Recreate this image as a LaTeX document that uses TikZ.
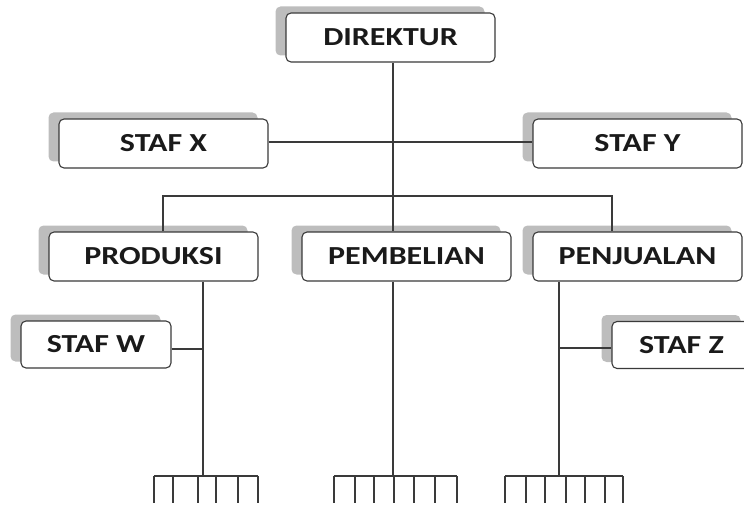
\documentclass[tikz,border=0pt]{standalone}
\usepackage{fontspec}
\newfontfamily\lbl{Carlito}[FakeStretch=1.23]
\usetikzlibrary{shadows}
\definecolor{edge}{HTML}{3A3A3A}
\definecolor{shade}{HTML}{BDBDBD}
\definecolor{ink}{HTML}{1A1A1A}
\tikzset{
  unit/.style={draw=edge, line width=1.1pt, fill=white, rounded corners=5pt,
    minimum width=209pt, minimum height=49pt, inner sep=0pt,
    text=ink, font=\lbl\bfseries\fontsize{26}{30}\selectfont,
    general shadow={shadow xshift=-10.5pt, shadow yshift=6.5pt, fill=shade, draw=none, opacity=1}},
  small/.style={unit, minimum width=150pt, minimum height=47pt},
  link/.style={draw=edge, line width=1.3pt}
}
\begin{document}
\begin{tikzpicture}[x=1pt,y=-1pt]
\useasboundingbox (0,0) rectangle (744,505);
\clip (0,0) rectangle (744,505);
% nodes
\node[unit] (dir)  at (390.5,37.5) {DIREKTUR};
\node[unit] (sx)   at (163.5,143.5) {STAF X};
\node[unit] (sy)   at (637.5,143.5) {STAF Y};
\node[unit] (prod) at (153.5,256.5) {PRODUKSI};
\node[unit] (pemb) at (406.5,256.5) {PEMBELIAN};
\node[unit] (penj) at (637.5,256.5) {PENJUALAN};
\node[small] (sw) at (96,344.5) {STAF W};
\node[small, minimum width=139pt] (sz) at (681.5,345) {STAF Z};
% helper coordinates
\coordinate (xm) at (393,196);
\coordinate (xl) at (163,196);
\coordinate (xr) at (612,196);
\coordinate (xp) at (203,0);
\coordinate (xj) at (559,0);
\coordinate (f1) at (204,476);
\coordinate (f2) at (394,476);
\coordinate (f3) at (558,476);
% connectors
\draw[link] (xm |- dir.south) -- (xm |- pemb.north);
\draw[link] (sx.east |- 0,142) -- (sy.west |- 0,142);
\draw[link] (xl |- prod.north) -- (xl) -- (xr) -- (xr |- penj.north);
\draw[link] (xp |- prod.south) -- (f1 -| xp);
\draw[link] (sw.east |- 0,349) -- (xp |- 0,349);
\draw[link] (xm |- pemb.south) -- (f2 -| xm);
\draw[link] (xj |- penj.south) -- (f3 -| xj);
\draw[link] (sz.west |- 0,348) -- (xj |- 0,348);
% forks
\draw[link] (154,476) -- (258,476);
\foreach \t in {154,173,198,216,238,258} \draw[link] (\t,476) -- (\t,503);
\draw[link] (334,476) -- (457,476);
\foreach \t in {334,355,374,394,414,435,457} \draw[link] (\t,476) -- (\t,503);
\draw[link] (505,476) -- (623,476);
\foreach \t in {505,526,545,566,585,605,623} \draw[link] (\t,476) -- (\t,503);
\end{tikzpicture}
\end{document}
